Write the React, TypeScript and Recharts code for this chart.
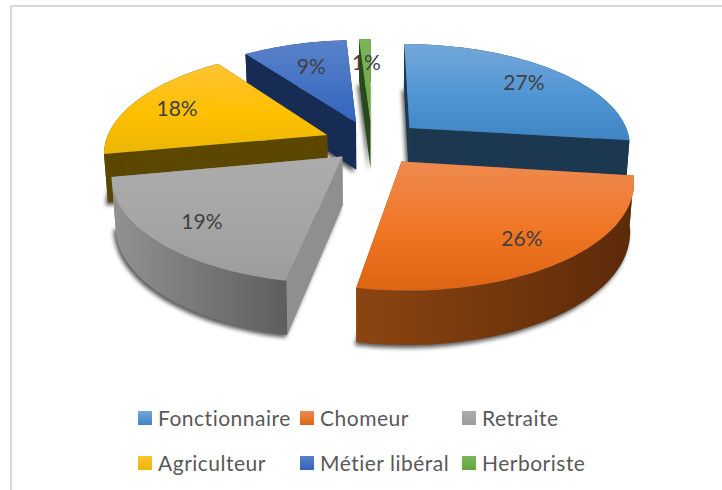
import { Pie, PieChart } from 'recharts'

// 3D exploded pie: angles come from the Pie, the shape just projects them with perspective
const categories = ['Fonctionnaire', 'Chomeur', 'Retraite', 'Agriculteur', 'Métier libéral', 'Herboriste']
const shares = [27, 26, 19, 18, 9, 1]
const explosions = [0.23, 0.22, 0.185, 0.22, 0.22, 0.22]
// back slices first so the front ones cover them
const drawOrder = ['Herboriste', 'Métier libéral', 'Fonctionnaire', 'Agriculteur', 'Retraite', 'Chomeur']

const topColors = [
  ['#74a7da', '#4f95d3', '#3f84c3'],
  ['#ee8a50', '#f07522', '#dd6414'],
  ['#acacac', '#a5a5a5', '#9c9c9c'],
  ['#ffc334', '#ffc000', '#ebb506'],
  ['#5a82ca', '#4472c4', '#3363bf'],
  ['#7ab65a', '#70ad47', '#65a63b'],
]
const edgeColors = ['#1c3850', '#7a3a0e', '#8f8f8f', '#5c4700', '#172c55', '#28491a']
const wallColors = [
  ['#1c3850', '#1c3850'],
  ['#8c4511', '#5c2a0a'],
  ['#929292', '#5e5e5e'],
  ['#5c4700', '#4a3900'],
  ['#172c55', '#172c55'],
  ['#28491a', '#28491a'],
]

const data = categories.map((name, i) => ({ name, value: shares[i] }))

const TILT = 0.458
const PERSPECTIVE = 0.16
const DEPTH = 48

const RAD = Math.PI / 180

function project(p: any, x: number, y: number) {
  const w = 1 + PERSPECTIVE * y
  return [p.cx + (p.outerRadius * x) / w, p.cy - (p.outerRadius * TILT * y) / w]
}

function sliceGeometry(p: any) {
  const mid = p.midAngle * RAD
  const explode = explosions[categories.indexOf(p.name)]
  const ox = explode * Math.cos(mid)
  const oy = explode * Math.sin(mid)
  const lift = (x: number, y: number) => {
    const [sx, sy] = project(p, x, y)
    return [p.cx + (sx - p.cx) * 0.985, sy + DEPTH / (1 + 0.1 * y)]
  }
  const rim: number[][] = []
  const steps = Math.max(2, Math.ceil(Math.abs(p.endAngle - p.startAngle) / 2))
  for (let s = 0; s <= steps; s++) {
    const a = (p.startAngle + ((p.endAngle - p.startAngle) * s) / steps) * RAD
    rim.push([ox + Math.cos(a), oy + Math.sin(a)])
  }
  return {
    apexTop: project(p, ox, oy),
    apexBottom: lift(ox, oy),
    rimTop: rim.map(([x, y]) => project(p, x, y)),
    rimBottom: rim.map(([x, y]) => lift(x, y)),
  }
}

const toPath = (points: number[][]) =>
  'M' + points.map(([x, y]) => `${x.toFixed(1)},${y.toFixed(1)}`).join('L') + 'Z'

function Slice(props: any) {
  const i = categories.indexOf(props.name)
  const g = sliceGeometry(props)
  const id = `s${i}`
  const first = g.rimTop[0]
  const last = g.rimTop[g.rimTop.length - 1]
  const firstB = g.rimBottom[0]
  const lastB = g.rimBottom[g.rimBottom.length - 1]
  const xs = g.rimTop.map((q) => q[0])
  const ys = g.rimTop.map((q) => q[1]).concat(g.apexTop[1])
  return (
    <g>
      <defs>
        <linearGradient
          id={`${id}top`}
          gradientUnits="userSpaceOnUse"
          x1="0"
          x2="0"
          y1={Math.min(...ys)}
          y2={Math.max(...ys)}
        >
          <stop offset="0" stopColor={topColors[i][0]} />
          <stop offset="0.55" stopColor={topColors[i][1]} />
          <stop offset="1" stopColor={topColors[i][2]} />
        </linearGradient>
        <linearGradient
          id={`${id}wall`}
          gradientUnits="userSpaceOnUse"
          x1={Math.max(...xs)}
          x2={Math.min(...xs)}
          y1="0"
          y2="0"
        >
          <stop offset="0" stopColor={wallColors[i][1]} />
          <stop offset="1" stopColor={wallColors[i][0]} />
        </linearGradient>
        <filter id={`${id}blur`} x="-30%" y="-30%" width="160%" height="160%">
          <feGaussianBlur stdDeviation="2" />
        </filter>
      </defs>
      <path
        d={toPath([g.apexBottom, ...g.rimBottom])}
        fill="#000"
        opacity={0.65}
        filter={`url(#${id}blur)`}
        transform="translate(-2,3)"
      />
      <path d={toPath([g.apexTop, last, lastB, g.apexBottom])} fill={edgeColors[i]} />
      <path d={toPath([g.apexTop, first, firstB, g.apexBottom])} fill={edgeColors[i]} />
      <path d={toPath([...g.rimTop, ...[...g.rimBottom].reverse()])} fill={`url(#${id}wall)`} />
      <path d={toPath([g.apexTop, ...g.rimTop])} fill={`url(#${id}top)`} />
    </g>
  )
}

function sliceLabel(props: any) {
  const mid = props.midAngle * RAD
  // small slices keep their label nearer the apex
  const f = explosions[categories.indexOf(props.name)] + (props.value > 10 ? 0.78 : 0.7)
  const [x, y] = project(props, f * Math.cos(mid), f * Math.sin(mid))
  return (
    <text
      x={x}
      y={y}
      textAnchor="middle"
      dominantBaseline="central"
      fontFamily="Lato, sans-serif"
      fontSize={21}
      fill="#404040"
    >
      {`${props.value}%`}
    </text>
  )
}

function LegendGrid() {
  return (
    <div
      style={{
        position: 'absolute',
        left: 138,
        top: 395,
        display: 'grid',
        gridTemplateColumns: '162px 162px 162px',
        fontFamily: 'Lato, sans-serif',
        fontSize: 21,
        letterSpacing: 0.5,
        color: '#595959',
      }}
    >
      {categories.map((name, i) => (
        <div key={name} style={{ display: 'flex', alignItems: 'center', height: 45 }}>
          <svg width={14} height={14} style={{ marginRight: 6, flex: 'none' }}>
            <defs>
              <linearGradient id={`leg${i}`} x1="0" x2="0" y1="0" y2="1">
                <stop offset="0" stopColor={topColors[i][0]} />
                <stop offset="1" stopColor={topColors[i][2]} />
              </linearGradient>
            </defs>
            <rect width={14} height={14} fill={`url(#leg${i})`} />
          </svg>
          <span style={{ whiteSpace: 'nowrap' }}>{name}</span>
        </div>
      ))}
    </div>
  )
}

export default function App() {
  return (
    <div style={{ position: 'absolute', left: 0, top: 0, width: 722, height: 490, background: '#fff', overflow: 'hidden' }}>
      <div
        style={{
          position: 'absolute',
          left: 10,
          top: 5,
          width: 722,
          height: 490,
          borderLeft: '2px solid #d9d9d9',
          borderTop: '2px solid #d9d9d9',
        }}
      />
      <div style={{ position: 'absolute', left: 0, top: 0 }}>
        <PieChart width={722} height={490} margin={{ top: 0, right: 0, bottom: 0, left: 0 }}>
          {drawOrder.map((layer) => (
            <Pie
              key={layer}
              data={data}
              dataKey="value"
              nameKey="name"
              cx={372}
              cy={143}
              innerRadius={0}
              outerRadius={222}
              startAngle={90}
              endAngle={-270}
              stroke="none"
              isAnimationActive={false}
              labelLine={false}
              label={layer === 'Chomeur' ? sliceLabel : false}
              shape={(p: any) => (p.name === layer ? <Slice {...p} /> : <g />)}
            />
          ))}
        </PieChart>
      </div>
      <LegendGrid />
    </div>
  )
}
